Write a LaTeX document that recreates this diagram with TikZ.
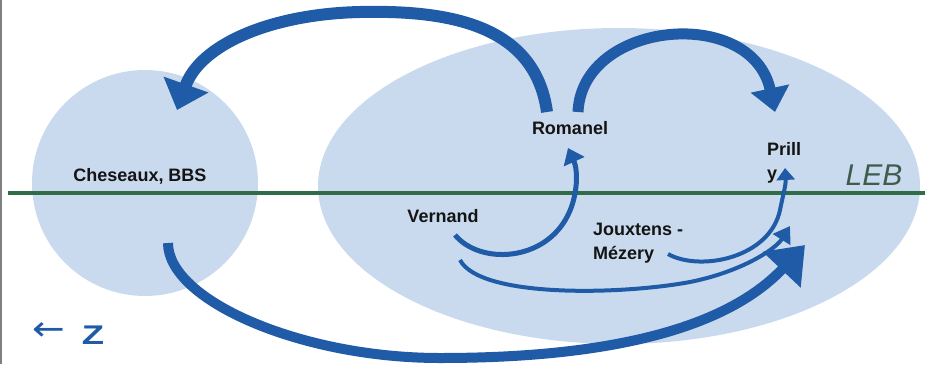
\documentclass[tikz,border=0pt]{standalone}
\usepackage{fontspec}
\setmainfont{Liberation Sans}
\newfontfamily\arrowfont{DejaVu Sans}
\usetikzlibrary{arrows.meta,shapes.geometric,positioning}
\definecolor{arealight}{RGB}{201,218,238}
\definecolor{flowblue}{RGB}{31,91,166}
\definecolor{linegreen}{RGB}{48,108,72}
\definecolor{lebgreen}{RGB}{62,92,78}
\tikzset{area/.style={fill=arealight,draw=none},
    place/.style={font=\fontsize{18}{24}\selectfont\bfseries,text=black!92,inner sep=0},
    flow/.style={draw=flowblue,line cap=butt}
}

\begin{document}
\begin{tikzpicture}[x=1pt,y=-1pt]
\useasboundingbox (0,0) rectangle (925,364);

\draw [gray,line width=2pt] (1,0) -- (1,364);

% the two zones
\node (north) [area,circle,minimum size=226pt] at (145,183) {};
\node (leb) [area,ellipse,minimum width=602pt,minimum height=316pt] at (619,186) {};

\draw [linegreen,line width=4pt] (8,193) -- (925,193);
\node (lebname) [font=\fontsize{30}{30}\selectfont\itshape,text=lebgreen] at (874,175) {LEB};

% places
\node (ches) [place] at (140,176) {Cheseaux, BBS};
\node (rom) [place] at (570,128) {Romanel};
\node (prilly) [place,align=left,anchor=north west] at (767,142) {Prill\\y};
\node (vern) [place] at (443,216) {Vernand};
\node (joux) [place,align=left,anchor=north west] at (593,223) {Jouxtens -\\Mézery};

% ends of the flows
\coordinate (rom-w) at (547,112);
\coordinate (rom-e) at (578,112);
\coordinate (rom-s) at (568,148);
\coordinate (ches-in) at (177,110);
\coordinate (ches-s) at (168,243);
\coordinate (prilly-in) at (775,112);
\coordinate (prilly-s) at (785,168);
\coordinate (vern-e) at (455,235);
\coordinate (vern-s) at (460,260);
\coordinate (joux-e) at (668,254);
\coordinate (leb-a) at (790,226);
\coordinate (leb-b) at (805,245);

% flows
\draw [flow,line width=12pt,-{Triangle[width=46pt,length=27pt]}]
    (rom-w) .. controls (535,25) and (450,10) .. (360,12)
    .. controls (270,14) and (200,45) .. (ches-in);
\draw [flow,line width=11pt,-{Triangle[width=38pt,length=24pt]}]
    (rom-e) .. controls (582,20) and (752,5) .. (prilly-in);
\draw [flow,line width=5pt,-{Triangle[width=22pt,length=15pt]}]
    (vern-e) .. controls (480,265) and (545,262) .. (568,215)
    .. controls (578,195) and (578,170) .. (rom-s);
\draw [flow,line width=4pt,-{Triangle[width=18pt,length=12pt]}]
    (joux-e) .. controls (700,272) and (770,258) .. (780,210)
    .. controls (783,195) and (786,185) .. (prilly-s);
\draw [flow,line width=4pt,-{Triangle[width=20pt,length=16pt]}]
    (vern-s) .. controls (480,298) and (620,295) .. (690,282)
    .. controls (740,272) and (775,250) .. (leb-a);
\draw [flow,line width=10pt,-{Triangle[width=50pt,length=34pt]}]
    (ches-s) .. controls (168,300) and (300,358) .. (440,358)
    .. controls (590,358) and (720,335) .. (leb-b);

% orientation
\node (dirarrow) [text=flowblue,font=\fontsize{34}{34}\selectfont\arrowfont] at (49,332) {\scalebox{1.15}[1]{←}};
\node (dirz) [text=flowblue,font=\fontsize{27}{27}\selectfont\bfseries] at (93,335) {\scalebox{1.35}[1]{Z}};

\end{tikzpicture}
\end{document}
